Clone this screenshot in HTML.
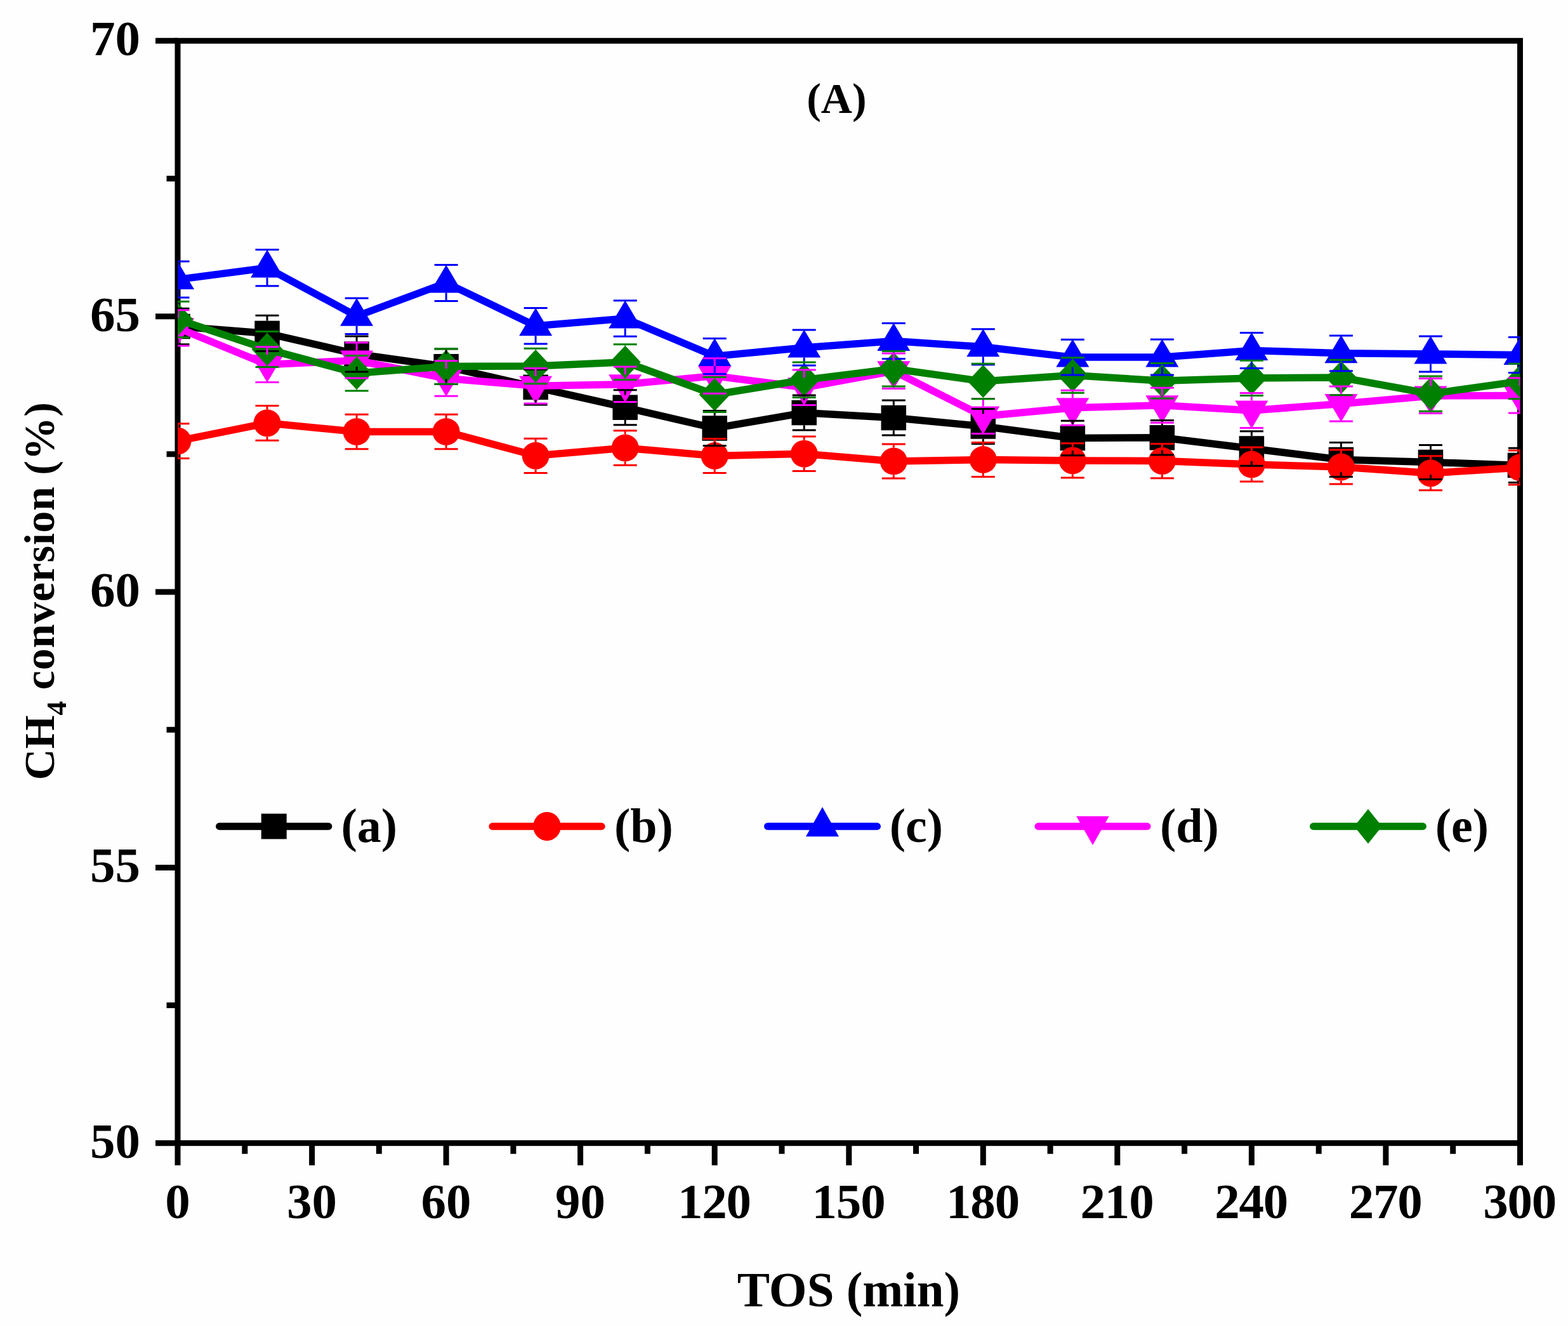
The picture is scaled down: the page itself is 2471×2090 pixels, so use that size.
<!DOCTYPE html>
<html><head><meta charset="utf-8"><title>CH4 conversion vs TOS</title>
<style>
html,body{margin:0;padding:0;background:#fefefe;}
svg{display:block;}
text{font-family:"Liberation Serif","Times New Roman",serif;font-weight:bold;fill:#000;}
</style></head><body>
<svg width="2471" height="2090" viewBox="0 0 2471 2090">
<rect width="2471" height="2090" fill="#fefefe"/>
<defs><clipPath id="pa"><rect x="280" y="0" width="2115.5" height="2090"/></clipPath></defs>

<rect x="280.0" y="64.3" width="2115.5" height="1737.4" fill="none" stroke="#000" stroke-width="9" stroke-linejoin="miter"/>
<line x1="245.0" y1="1801.7" x2="280.0" y2="1801.7" stroke="#000" stroke-width="9"/>
<line x1="262.5" y1="1584.5" x2="280.0" y2="1584.5" stroke="#000" stroke-width="9"/>
<line x1="245.0" y1="1367.4" x2="280.0" y2="1367.4" stroke="#000" stroke-width="9"/>
<line x1="262.5" y1="1150.2" x2="280.0" y2="1150.2" stroke="#000" stroke-width="9"/>
<line x1="245.0" y1="933.0" x2="280.0" y2="933.0" stroke="#000" stroke-width="9"/>
<line x1="262.5" y1="715.8" x2="280.0" y2="715.8" stroke="#000" stroke-width="9"/>
<line x1="245.0" y1="498.7" x2="280.0" y2="498.7" stroke="#000" stroke-width="9"/>
<line x1="262.5" y1="281.5" x2="280.0" y2="281.5" stroke="#000" stroke-width="9"/>
<line x1="245.0" y1="64.3" x2="280.0" y2="64.3" stroke="#000" stroke-width="9"/>
<line x1="280.0" y1="1801.7" x2="280.0" y2="1836.7" stroke="#000" stroke-width="9"/>
<line x1="385.8" y1="1801.7" x2="385.8" y2="1818.7" stroke="#000" stroke-width="9"/>
<line x1="491.6" y1="1801.7" x2="491.6" y2="1836.7" stroke="#000" stroke-width="9"/>
<line x1="597.3" y1="1801.7" x2="597.3" y2="1818.7" stroke="#000" stroke-width="9"/>
<line x1="703.1" y1="1801.7" x2="703.1" y2="1836.7" stroke="#000" stroke-width="9"/>
<line x1="808.9" y1="1801.7" x2="808.9" y2="1818.7" stroke="#000" stroke-width="9"/>
<line x1="914.6" y1="1801.7" x2="914.6" y2="1836.7" stroke="#000" stroke-width="9"/>
<line x1="1020.4" y1="1801.7" x2="1020.4" y2="1818.7" stroke="#000" stroke-width="9"/>
<line x1="1126.2" y1="1801.7" x2="1126.2" y2="1836.7" stroke="#000" stroke-width="9"/>
<line x1="1232.0" y1="1801.7" x2="1232.0" y2="1818.7" stroke="#000" stroke-width="9"/>
<line x1="1337.8" y1="1801.7" x2="1337.8" y2="1836.7" stroke="#000" stroke-width="9"/>
<line x1="1443.5" y1="1801.7" x2="1443.5" y2="1818.7" stroke="#000" stroke-width="9"/>
<line x1="1549.3" y1="1801.7" x2="1549.3" y2="1836.7" stroke="#000" stroke-width="9"/>
<line x1="1655.1" y1="1801.7" x2="1655.1" y2="1818.7" stroke="#000" stroke-width="9"/>
<line x1="1760.8" y1="1801.7" x2="1760.8" y2="1836.7" stroke="#000" stroke-width="9"/>
<line x1="1866.6" y1="1801.7" x2="1866.6" y2="1818.7" stroke="#000" stroke-width="9"/>
<line x1="1972.4" y1="1801.7" x2="1972.4" y2="1836.7" stroke="#000" stroke-width="9"/>
<line x1="2078.2" y1="1801.7" x2="2078.2" y2="1818.7" stroke="#000" stroke-width="9"/>
<line x1="2183.9" y1="1801.7" x2="2183.9" y2="1836.7" stroke="#000" stroke-width="9"/>
<line x1="2289.7" y1="1801.7" x2="2289.7" y2="1818.7" stroke="#000" stroke-width="9"/>
<line x1="2395.5" y1="1801.7" x2="2395.5" y2="1836.7" stroke="#000" stroke-width="9"/>
<text x="221" y="1824.7" font-size="79" text-anchor="end">50</text>
<text x="221" y="1390.4" font-size="79" text-anchor="end">55</text>
<text x="221" y="956.0" font-size="79" text-anchor="end">60</text>
<text x="221" y="521.7" font-size="79" text-anchor="end">65</text>
<text x="221" y="87.3" font-size="79" text-anchor="end">70</text>
<text x="280.0" y="1920" font-size="79" text-anchor="middle">0</text>
<text x="491.6" y="1920" font-size="79" text-anchor="middle">30</text>
<text x="703.1" y="1920" font-size="79" text-anchor="middle">60</text>
<text x="914.6" y="1920" font-size="79" text-anchor="middle">90</text>
<text x="1125.4" y="1920" font-size="79" text-anchor="middle" letter-spacing="-1.2">120</text>
<text x="1337.0" y="1920" font-size="79" text-anchor="middle" letter-spacing="-1.2">150</text>
<text x="1548.5" y="1920" font-size="79" text-anchor="middle" letter-spacing="-1.2">180</text>
<text x="1760.0" y="1920" font-size="79" text-anchor="middle" letter-spacing="-1.2">210</text>
<text x="1971.6" y="1920" font-size="79" text-anchor="middle" letter-spacing="-1.2">240</text>
<text x="2183.1" y="1920" font-size="79" text-anchor="middle" letter-spacing="-1.2">270</text>
<text x="2394.7" y="1920" font-size="79" text-anchor="middle" letter-spacing="-1.2">300</text>
<text transform="translate(1337.5,2059) scale(0.974,1)" font-size="79" text-anchor="middle">TOS (min)</text>
<text transform="translate(84.6,1229.4) rotate(-90)" x="0" y="0" font-size="68">CH<tspan font-size="45" dy="19">4</tspan><tspan dy="-19" letter-spacing="0.72"> conversion (%)</tspan></text>
<text x="1318.4" y="177.9" font-size="68" text-anchor="middle">(A)</text>
<g clip-path="url(#pa)">
<polyline points="280.0,514.5 421.0,525.4 562.1,558.0 703.1,577.7 844.1,610.3 985.2,642.2 1126.2,675.0 1267.2,650.5 1408.3,658.5 1549.3,672.0 1690.3,690.5 1831.4,689.8 1972.4,707.0 2113.4,724.5 2254.5,728.5 2395.5,733.4" fill="none" stroke="#000000" stroke-width="11.5" stroke-linejoin="miter"/>
<rect x="260.25" y="494.75" width="39.5" height="39.5" fill="#000000"/>
<rect x="401.28" y="505.65" width="39.5" height="39.5" fill="#000000"/>
<rect x="542.32" y="538.25" width="39.5" height="39.5" fill="#000000"/>
<rect x="683.35" y="557.95" width="39.5" height="39.5" fill="#000000"/>
<rect x="824.38" y="590.55" width="39.5" height="39.5" fill="#000000"/>
<rect x="965.42" y="622.45" width="39.5" height="39.5" fill="#000000"/>
<rect x="1106.45" y="655.25" width="39.5" height="39.5" fill="#000000"/>
<rect x="1247.48" y="630.75" width="39.5" height="39.5" fill="#000000"/>
<rect x="1388.52" y="638.75" width="39.5" height="39.5" fill="#000000"/>
<rect x="1529.55" y="652.25" width="39.5" height="39.5" fill="#000000"/>
<rect x="1670.58" y="670.75" width="39.5" height="39.5" fill="#000000"/>
<rect x="1811.62" y="670.05" width="39.5" height="39.5" fill="#000000"/>
<rect x="1952.65" y="687.25" width="39.5" height="39.5" fill="#000000"/>
<rect x="2093.68" y="704.75" width="39.5" height="39.5" fill="#000000"/>
<rect x="2234.72" y="708.75" width="39.5" height="39.5" fill="#000000"/>
<rect x="2375.75" y="713.65" width="39.5" height="39.5" fill="#000000"/>
<polyline points="280.0,695.1 421.0,666.8 562.1,680.5 703.1,680.5 844.1,718.3 985.2,706.0 1126.2,718.5 1267.2,715.2 1408.3,727.0 1549.3,724.5 1690.3,725.9 1831.4,726.6 1972.4,732.0 2113.4,736.1 2254.5,745.8 2395.5,737.0" fill="none" stroke="#ff0000" stroke-width="11.5" stroke-linejoin="miter"/>
<circle cx="280.00" cy="695.10" r="21.5" fill="#ff0000"/>
<circle cx="421.03" cy="666.80" r="21.5" fill="#ff0000"/>
<circle cx="562.07" cy="680.50" r="21.5" fill="#ff0000"/>
<circle cx="703.10" cy="680.50" r="21.5" fill="#ff0000"/>
<circle cx="844.13" cy="718.30" r="21.5" fill="#ff0000"/>
<circle cx="985.17" cy="706.00" r="21.5" fill="#ff0000"/>
<circle cx="1126.20" cy="718.50" r="21.5" fill="#ff0000"/>
<circle cx="1267.23" cy="715.20" r="21.5" fill="#ff0000"/>
<circle cx="1408.27" cy="727.00" r="21.5" fill="#ff0000"/>
<circle cx="1549.30" cy="724.50" r="21.5" fill="#ff0000"/>
<circle cx="1690.33" cy="725.90" r="21.5" fill="#ff0000"/>
<circle cx="1831.37" cy="726.60" r="21.5" fill="#ff0000"/>
<circle cx="1972.40" cy="732.00" r="21.5" fill="#ff0000"/>
<circle cx="2113.43" cy="736.10" r="21.5" fill="#ff0000"/>
<circle cx="2254.47" cy="745.80" r="21.5" fill="#ff0000"/>
<circle cx="2395.50" cy="737.00" r="21.5" fill="#ff0000"/>
<polyline points="280.0,440.6 421.0,422.1 562.1,498.3 703.1,445.9 844.1,513.7 985.2,502.0 1126.2,561.5 1267.2,548.0 1408.3,537.5 1549.3,546.8 1690.3,563.1 1831.4,563.0 1972.4,552.4 2113.4,556.8 2254.5,558.0 2395.5,559.5" fill="none" stroke="#0000ff" stroke-width="11.5" stroke-linejoin="miter"/>
<polygon points="280.00,412.10 254.00,456.10 306.00,456.10" fill="#0000ff"/>
<polygon points="421.03,393.60 395.03,437.60 447.03,437.60" fill="#0000ff"/>
<polygon points="562.07,469.80 536.07,513.80 588.07,513.80" fill="#0000ff"/>
<polygon points="703.10,417.40 677.10,461.40 729.10,461.40" fill="#0000ff"/>
<polygon points="844.13,485.20 818.13,529.20 870.13,529.20" fill="#0000ff"/>
<polygon points="985.17,473.50 959.17,517.50 1011.17,517.50" fill="#0000ff"/>
<polygon points="1126.20,533.00 1100.20,577.00 1152.20,577.00" fill="#0000ff"/>
<polygon points="1267.23,519.50 1241.23,563.50 1293.23,563.50" fill="#0000ff"/>
<polygon points="1408.27,509.00 1382.27,553.00 1434.27,553.00" fill="#0000ff"/>
<polygon points="1549.30,518.30 1523.30,562.30 1575.30,562.30" fill="#0000ff"/>
<polygon points="1690.33,534.60 1664.33,578.60 1716.33,578.60" fill="#0000ff"/>
<polygon points="1831.37,534.50 1805.37,578.50 1857.37,578.50" fill="#0000ff"/>
<polygon points="1972.40,523.90 1946.40,567.90 1998.40,567.90" fill="#0000ff"/>
<polygon points="2113.43,528.30 2087.43,572.30 2139.43,572.30" fill="#0000ff"/>
<polygon points="2254.47,529.50 2228.47,573.50 2280.47,573.50" fill="#0000ff"/>
<polygon points="2395.50,531.00 2369.50,575.00 2421.50,575.00" fill="#0000ff"/>
<polyline points="280.0,516.8 421.0,574.6 562.1,568.0 703.1,596.5 844.1,608.2 985.2,605.7 1126.2,592.5 1267.2,610.8 1408.3,584.8 1549.3,656.0 1690.3,642.7 1831.4,638.7 1972.4,647.0 2113.4,636.4 2254.5,624.0 2395.5,623.4" fill="none" stroke="#ff00ff" stroke-width="11.5" stroke-linejoin="miter"/>
<polygon points="280.00,545.30 254.00,501.30 306.00,501.30" fill="#ff00ff"/>
<polygon points="421.03,603.10 395.03,559.10 447.03,559.10" fill="#ff00ff"/>
<polygon points="562.07,596.50 536.07,552.50 588.07,552.50" fill="#ff00ff"/>
<polygon points="703.10,625.00 677.10,581.00 729.10,581.00" fill="#ff00ff"/>
<polygon points="844.13,636.70 818.13,592.70 870.13,592.70" fill="#ff00ff"/>
<polygon points="985.17,634.20 959.17,590.20 1011.17,590.20" fill="#ff00ff"/>
<polygon points="1126.20,621.00 1100.20,577.00 1152.20,577.00" fill="#ff00ff"/>
<polygon points="1267.23,639.30 1241.23,595.30 1293.23,595.30" fill="#ff00ff"/>
<polygon points="1408.27,613.30 1382.27,569.30 1434.27,569.30" fill="#ff00ff"/>
<polygon points="1549.30,684.50 1523.30,640.50 1575.30,640.50" fill="#ff00ff"/>
<polygon points="1690.33,671.20 1664.33,627.20 1716.33,627.20" fill="#ff00ff"/>
<polygon points="1831.37,667.20 1805.37,623.20 1857.37,623.20" fill="#ff00ff"/>
<polygon points="1972.40,675.50 1946.40,631.50 1998.40,631.50" fill="#ff00ff"/>
<polygon points="2113.43,664.90 2087.43,620.90 2139.43,620.90" fill="#ff00ff"/>
<polygon points="2254.47,652.50 2228.47,608.50 2280.47,608.50" fill="#ff00ff"/>
<polygon points="2395.50,651.90 2369.50,607.90 2421.50,607.90" fill="#ff00ff"/>
<polyline points="280.0,503.5 421.0,550.4 562.1,588.2 703.1,577.5 844.1,577.0 985.2,570.7 1126.2,622.0 1267.2,598.8 1408.3,581.3 1549.3,601.0 1690.3,591.5 1831.4,600.3 1972.4,595.9 2113.4,595.0 2254.5,620.6 2395.5,601.0" fill="none" stroke="#008000" stroke-width="11.5" stroke-linejoin="miter"/>
<polygon points="280.00,477.50 304.50,503.50 280.00,529.50 255.50,503.50" fill="#008000"/>
<polygon points="421.03,524.40 445.53,550.40 421.03,576.40 396.53,550.40" fill="#008000"/>
<polygon points="562.07,562.20 586.57,588.20 562.07,614.20 537.57,588.20" fill="#008000"/>
<polygon points="703.10,551.50 727.60,577.50 703.10,603.50 678.60,577.50" fill="#008000"/>
<polygon points="844.13,551.00 868.63,577.00 844.13,603.00 819.63,577.00" fill="#008000"/>
<polygon points="985.17,544.70 1009.67,570.70 985.17,596.70 960.67,570.70" fill="#008000"/>
<polygon points="1126.20,596.00 1150.70,622.00 1126.20,648.00 1101.70,622.00" fill="#008000"/>
<polygon points="1267.23,572.80 1291.73,598.80 1267.23,624.80 1242.73,598.80" fill="#008000"/>
<polygon points="1408.27,555.30 1432.77,581.30 1408.27,607.30 1383.77,581.30" fill="#008000"/>
<polygon points="1549.30,575.00 1573.80,601.00 1549.30,627.00 1524.80,601.00" fill="#008000"/>
<polygon points="1690.33,565.50 1714.83,591.50 1690.33,617.50 1665.83,591.50" fill="#008000"/>
<polygon points="1831.37,574.30 1855.87,600.30 1831.37,626.30 1806.87,600.30" fill="#008000"/>
<polygon points="1972.40,569.90 1996.90,595.90 1972.40,621.90 1947.90,595.90" fill="#008000"/>
<polygon points="2113.43,569.00 2137.93,595.00 2113.43,621.00 2088.93,595.00" fill="#008000"/>
<polygon points="2254.47,594.60 2278.97,620.60 2254.47,646.60 2229.97,620.60" fill="#008000"/>
<polygon points="2395.50,575.00 2420.00,601.00 2395.50,627.00 2371.00,601.00" fill="#008000"/>
<line x1="280.0" y1="486.3" x2="280.0" y2="494.8" stroke="#000000" stroke-width="3"/><line x1="280.0" y1="534.2" x2="280.0" y2="542.7" stroke="#000000" stroke-width="3"/><line x1="261.5" y1="486.3" x2="298.5" y2="486.3" stroke="#000000" stroke-width="3"/><line x1="261.5" y1="542.7" x2="298.5" y2="542.7" stroke="#000000" stroke-width="3"/>
<line x1="421.0" y1="497.3" x2="421.0" y2="505.6" stroke="#000000" stroke-width="3"/><line x1="421.0" y1="545.1" x2="421.0" y2="553.5" stroke="#000000" stroke-width="3"/><line x1="402.5" y1="497.3" x2="439.5" y2="497.3" stroke="#000000" stroke-width="3"/><line x1="402.5" y1="553.5" x2="439.5" y2="553.5" stroke="#000000" stroke-width="3"/>
<line x1="562.1" y1="530.1" x2="562.1" y2="538.2" stroke="#000000" stroke-width="3"/><line x1="562.1" y1="577.8" x2="562.1" y2="585.9" stroke="#000000" stroke-width="3"/><line x1="543.6" y1="530.1" x2="580.6" y2="530.1" stroke="#000000" stroke-width="3"/><line x1="543.6" y1="585.9" x2="580.6" y2="585.9" stroke="#000000" stroke-width="3"/>
<line x1="703.1" y1="549.9" x2="703.1" y2="558.0" stroke="#000000" stroke-width="3"/><line x1="703.1" y1="597.5" x2="703.1" y2="605.5" stroke="#000000" stroke-width="3"/><line x1="684.6" y1="549.9" x2="721.6" y2="549.9" stroke="#000000" stroke-width="3"/><line x1="684.6" y1="605.5" x2="721.6" y2="605.5" stroke="#000000" stroke-width="3"/>
<line x1="844.1" y1="582.6" x2="844.1" y2="590.5" stroke="#000000" stroke-width="3"/><line x1="844.1" y1="630.0" x2="844.1" y2="638.0" stroke="#000000" stroke-width="3"/><line x1="825.6" y1="582.6" x2="862.6" y2="582.6" stroke="#000000" stroke-width="3"/><line x1="825.6" y1="638.0" x2="862.6" y2="638.0" stroke="#000000" stroke-width="3"/>
<line x1="985.2" y1="614.7" x2="985.2" y2="622.5" stroke="#000000" stroke-width="3"/><line x1="985.2" y1="662.0" x2="985.2" y2="669.7" stroke="#000000" stroke-width="3"/><line x1="966.7" y1="614.7" x2="1003.7" y2="614.7" stroke="#000000" stroke-width="3"/><line x1="966.7" y1="669.7" x2="1003.7" y2="669.7" stroke="#000000" stroke-width="3"/>
<line x1="1126.2" y1="647.6" x2="1126.2" y2="655.2" stroke="#000000" stroke-width="3"/><line x1="1126.2" y1="694.8" x2="1126.2" y2="702.4" stroke="#000000" stroke-width="3"/><line x1="1107.7" y1="647.6" x2="1144.7" y2="647.6" stroke="#000000" stroke-width="3"/><line x1="1107.7" y1="702.4" x2="1144.7" y2="702.4" stroke="#000000" stroke-width="3"/>
<line x1="1267.2" y1="623.0" x2="1267.2" y2="630.8" stroke="#000000" stroke-width="3"/><line x1="1267.2" y1="670.2" x2="1267.2" y2="678.0" stroke="#000000" stroke-width="3"/><line x1="1248.7" y1="623.0" x2="1285.7" y2="623.0" stroke="#000000" stroke-width="3"/><line x1="1248.7" y1="678.0" x2="1285.7" y2="678.0" stroke="#000000" stroke-width="3"/>
<line x1="1408.3" y1="631.1" x2="1408.3" y2="638.8" stroke="#000000" stroke-width="3"/><line x1="1408.3" y1="678.2" x2="1408.3" y2="685.9" stroke="#000000" stroke-width="3"/><line x1="1389.8" y1="631.1" x2="1426.8" y2="631.1" stroke="#000000" stroke-width="3"/><line x1="1389.8" y1="685.9" x2="1426.8" y2="685.9" stroke="#000000" stroke-width="3"/>
<line x1="1549.3" y1="644.6" x2="1549.3" y2="652.2" stroke="#000000" stroke-width="3"/><line x1="1549.3" y1="691.8" x2="1549.3" y2="699.4" stroke="#000000" stroke-width="3"/><line x1="1530.8" y1="644.6" x2="1567.8" y2="644.6" stroke="#000000" stroke-width="3"/><line x1="1530.8" y1="699.4" x2="1567.8" y2="699.4" stroke="#000000" stroke-width="3"/>
<line x1="1690.3" y1="663.2" x2="1690.3" y2="670.8" stroke="#000000" stroke-width="3"/><line x1="1690.3" y1="710.2" x2="1690.3" y2="717.8" stroke="#000000" stroke-width="3"/><line x1="1671.8" y1="663.2" x2="1708.8" y2="663.2" stroke="#000000" stroke-width="3"/><line x1="1671.8" y1="717.8" x2="1708.8" y2="717.8" stroke="#000000" stroke-width="3"/>
<line x1="1831.4" y1="662.5" x2="1831.4" y2="670.0" stroke="#000000" stroke-width="3"/><line x1="1831.4" y1="709.5" x2="1831.4" y2="717.1" stroke="#000000" stroke-width="3"/><line x1="1812.9" y1="662.5" x2="1849.9" y2="662.5" stroke="#000000" stroke-width="3"/><line x1="1812.9" y1="717.1" x2="1849.9" y2="717.1" stroke="#000000" stroke-width="3"/>
<line x1="1972.4" y1="679.8" x2="1972.4" y2="687.2" stroke="#000000" stroke-width="3"/><line x1="1972.4" y1="726.8" x2="1972.4" y2="734.2" stroke="#000000" stroke-width="3"/><line x1="1953.9" y1="679.8" x2="1990.9" y2="679.8" stroke="#000000" stroke-width="3"/><line x1="1953.9" y1="734.2" x2="1990.9" y2="734.2" stroke="#000000" stroke-width="3"/>
<line x1="2113.4" y1="697.4" x2="2113.4" y2="704.8" stroke="#000000" stroke-width="3"/><line x1="2113.4" y1="744.2" x2="2113.4" y2="751.6" stroke="#000000" stroke-width="3"/><line x1="2094.9" y1="697.4" x2="2131.9" y2="697.4" stroke="#000000" stroke-width="3"/><line x1="2094.9" y1="751.6" x2="2131.9" y2="751.6" stroke="#000000" stroke-width="3"/>
<line x1="2254.5" y1="701.4" x2="2254.5" y2="708.8" stroke="#000000" stroke-width="3"/><line x1="2254.5" y1="748.2" x2="2254.5" y2="755.6" stroke="#000000" stroke-width="3"/><line x1="2236.0" y1="701.4" x2="2273.0" y2="701.4" stroke="#000000" stroke-width="3"/><line x1="2236.0" y1="755.6" x2="2273.0" y2="755.6" stroke="#000000" stroke-width="3"/>
<line x1="2395.5" y1="706.3" x2="2395.5" y2="713.6" stroke="#000000" stroke-width="3"/><line x1="2395.5" y1="753.1" x2="2395.5" y2="760.5" stroke="#000000" stroke-width="3"/><line x1="2377.0" y1="706.3" x2="2414.0" y2="706.3" stroke="#000000" stroke-width="3"/><line x1="2377.0" y1="760.5" x2="2414.0" y2="760.5" stroke="#000000" stroke-width="3"/>
<line x1="280.0" y1="667.8" x2="280.0" y2="673.6" stroke="#ff0000" stroke-width="3"/><line x1="280.0" y1="716.6" x2="280.0" y2="722.4" stroke="#ff0000" stroke-width="3"/><line x1="261.5" y1="667.8" x2="298.5" y2="667.8" stroke="#ff0000" stroke-width="3"/><line x1="261.5" y1="722.4" x2="298.5" y2="722.4" stroke="#ff0000" stroke-width="3"/>
<line x1="421.0" y1="639.4" x2="421.0" y2="645.3" stroke="#ff0000" stroke-width="3"/><line x1="421.0" y1="688.3" x2="421.0" y2="694.2" stroke="#ff0000" stroke-width="3"/><line x1="402.5" y1="639.4" x2="439.5" y2="639.4" stroke="#ff0000" stroke-width="3"/><line x1="402.5" y1="694.2" x2="439.5" y2="694.2" stroke="#ff0000" stroke-width="3"/>
<line x1="562.1" y1="653.2" x2="562.1" y2="659.0" stroke="#ff0000" stroke-width="3"/><line x1="562.1" y1="702.0" x2="562.1" y2="707.8" stroke="#ff0000" stroke-width="3"/><line x1="543.6" y1="653.2" x2="580.6" y2="653.2" stroke="#ff0000" stroke-width="3"/><line x1="543.6" y1="707.8" x2="580.6" y2="707.8" stroke="#ff0000" stroke-width="3"/>
<line x1="703.1" y1="653.2" x2="703.1" y2="659.0" stroke="#ff0000" stroke-width="3"/><line x1="703.1" y1="702.0" x2="703.1" y2="707.8" stroke="#ff0000" stroke-width="3"/><line x1="684.6" y1="653.2" x2="721.6" y2="653.2" stroke="#ff0000" stroke-width="3"/><line x1="684.6" y1="707.8" x2="721.6" y2="707.8" stroke="#ff0000" stroke-width="3"/>
<line x1="844.1" y1="691.2" x2="844.1" y2="696.8" stroke="#ff0000" stroke-width="3"/><line x1="844.1" y1="739.8" x2="844.1" y2="745.4" stroke="#ff0000" stroke-width="3"/><line x1="825.6" y1="691.2" x2="862.6" y2="691.2" stroke="#ff0000" stroke-width="3"/><line x1="825.6" y1="745.4" x2="862.6" y2="745.4" stroke="#ff0000" stroke-width="3"/>
<line x1="985.2" y1="678.8" x2="985.2" y2="684.5" stroke="#ff0000" stroke-width="3"/><line x1="985.2" y1="727.5" x2="985.2" y2="733.2" stroke="#ff0000" stroke-width="3"/><line x1="966.7" y1="678.8" x2="1003.7" y2="678.8" stroke="#ff0000" stroke-width="3"/><line x1="966.7" y1="733.2" x2="1003.7" y2="733.2" stroke="#ff0000" stroke-width="3"/>
<line x1="1126.2" y1="691.4" x2="1126.2" y2="697.0" stroke="#ff0000" stroke-width="3"/><line x1="1126.2" y1="740.0" x2="1126.2" y2="745.6" stroke="#ff0000" stroke-width="3"/><line x1="1107.7" y1="691.4" x2="1144.7" y2="691.4" stroke="#ff0000" stroke-width="3"/><line x1="1107.7" y1="745.6" x2="1144.7" y2="745.6" stroke="#ff0000" stroke-width="3"/>
<line x1="1267.2" y1="688.1" x2="1267.2" y2="693.7" stroke="#ff0000" stroke-width="3"/><line x1="1267.2" y1="736.7" x2="1267.2" y2="742.4" stroke="#ff0000" stroke-width="3"/><line x1="1248.7" y1="688.1" x2="1285.7" y2="688.1" stroke="#ff0000" stroke-width="3"/><line x1="1248.7" y1="742.4" x2="1285.7" y2="742.4" stroke="#ff0000" stroke-width="3"/>
<line x1="1408.3" y1="699.9" x2="1408.3" y2="705.5" stroke="#ff0000" stroke-width="3"/><line x1="1408.3" y1="748.5" x2="1408.3" y2="754.1" stroke="#ff0000" stroke-width="3"/><line x1="1389.8" y1="699.9" x2="1426.8" y2="699.9" stroke="#ff0000" stroke-width="3"/><line x1="1389.8" y1="754.1" x2="1426.8" y2="754.1" stroke="#ff0000" stroke-width="3"/>
<line x1="1549.3" y1="697.4" x2="1549.3" y2="703.0" stroke="#ff0000" stroke-width="3"/><line x1="1549.3" y1="746.0" x2="1549.3" y2="751.6" stroke="#ff0000" stroke-width="3"/><line x1="1530.8" y1="697.4" x2="1567.8" y2="697.4" stroke="#ff0000" stroke-width="3"/><line x1="1530.8" y1="751.6" x2="1567.8" y2="751.6" stroke="#ff0000" stroke-width="3"/>
<line x1="1690.3" y1="698.8" x2="1690.3" y2="704.4" stroke="#ff0000" stroke-width="3"/><line x1="1690.3" y1="747.4" x2="1690.3" y2="753.0" stroke="#ff0000" stroke-width="3"/><line x1="1671.8" y1="698.8" x2="1708.8" y2="698.8" stroke="#ff0000" stroke-width="3"/><line x1="1671.8" y1="753.0" x2="1708.8" y2="753.0" stroke="#ff0000" stroke-width="3"/>
<line x1="1831.4" y1="699.5" x2="1831.4" y2="705.1" stroke="#ff0000" stroke-width="3"/><line x1="1831.4" y1="748.1" x2="1831.4" y2="753.7" stroke="#ff0000" stroke-width="3"/><line x1="1812.9" y1="699.5" x2="1849.9" y2="699.5" stroke="#ff0000" stroke-width="3"/><line x1="1812.9" y1="753.7" x2="1849.9" y2="753.7" stroke="#ff0000" stroke-width="3"/>
<line x1="1972.4" y1="704.9" x2="1972.4" y2="710.5" stroke="#ff0000" stroke-width="3"/><line x1="1972.4" y1="753.5" x2="1972.4" y2="759.1" stroke="#ff0000" stroke-width="3"/><line x1="1953.9" y1="704.9" x2="1990.9" y2="704.9" stroke="#ff0000" stroke-width="3"/><line x1="1953.9" y1="759.1" x2="1990.9" y2="759.1" stroke="#ff0000" stroke-width="3"/>
<line x1="2113.4" y1="709.1" x2="2113.4" y2="714.6" stroke="#ff0000" stroke-width="3"/><line x1="2113.4" y1="757.6" x2="2113.4" y2="763.1" stroke="#ff0000" stroke-width="3"/><line x1="2094.9" y1="709.1" x2="2131.9" y2="709.1" stroke="#ff0000" stroke-width="3"/><line x1="2094.9" y1="763.1" x2="2131.9" y2="763.1" stroke="#ff0000" stroke-width="3"/>
<line x1="2254.5" y1="718.8" x2="2254.5" y2="724.3" stroke="#ff0000" stroke-width="3"/><line x1="2254.5" y1="767.3" x2="2254.5" y2="772.8" stroke="#ff0000" stroke-width="3"/><line x1="2236.0" y1="718.8" x2="2273.0" y2="718.8" stroke="#ff0000" stroke-width="3"/><line x1="2236.0" y1="772.8" x2="2273.0" y2="772.8" stroke="#ff0000" stroke-width="3"/>
<line x1="2395.5" y1="710.0" x2="2395.5" y2="715.5" stroke="#ff0000" stroke-width="3"/><line x1="2395.5" y1="758.5" x2="2395.5" y2="764.0" stroke="#ff0000" stroke-width="3"/><line x1="2377.0" y1="710.0" x2="2414.0" y2="710.0" stroke="#ff0000" stroke-width="3"/><line x1="2377.0" y1="764.0" x2="2414.0" y2="764.0" stroke="#ff0000" stroke-width="3"/>
<line x1="280.0" y1="412.1" x2="280.0" y2="412.1" stroke="#0000ff" stroke-width="3"/><line x1="280.0" y1="456.1" x2="280.0" y2="469.1" stroke="#0000ff" stroke-width="3"/><line x1="261.5" y1="412.1" x2="298.5" y2="412.1" stroke="#0000ff" stroke-width="3"/><line x1="261.5" y1="469.1" x2="298.5" y2="469.1" stroke="#0000ff" stroke-width="3"/>
<line x1="421.0" y1="393.5" x2="421.0" y2="393.6" stroke="#0000ff" stroke-width="3"/><line x1="421.0" y1="437.6" x2="421.0" y2="450.7" stroke="#0000ff" stroke-width="3"/><line x1="402.5" y1="393.5" x2="439.5" y2="393.5" stroke="#0000ff" stroke-width="3"/><line x1="402.5" y1="450.7" x2="439.5" y2="450.7" stroke="#0000ff" stroke-width="3"/>
<line x1="562.1" y1="513.8" x2="562.1" y2="526.5" stroke="#0000ff" stroke-width="3"/><line x1="543.6" y1="470.1" x2="580.6" y2="470.1" stroke="#0000ff" stroke-width="3"/><line x1="543.6" y1="526.5" x2="580.6" y2="526.5" stroke="#0000ff" stroke-width="3"/>
<line x1="703.1" y1="461.4" x2="703.1" y2="474.4" stroke="#0000ff" stroke-width="3"/><line x1="684.6" y1="417.4" x2="721.6" y2="417.4" stroke="#0000ff" stroke-width="3"/><line x1="684.6" y1="474.4" x2="721.6" y2="474.4" stroke="#0000ff" stroke-width="3"/>
<line x1="844.1" y1="529.2" x2="844.1" y2="541.9" stroke="#0000ff" stroke-width="3"/><line x1="825.6" y1="485.5" x2="862.6" y2="485.5" stroke="#0000ff" stroke-width="3"/><line x1="825.6" y1="541.9" x2="862.6" y2="541.9" stroke="#0000ff" stroke-width="3"/>
<line x1="985.2" y1="517.5" x2="985.2" y2="530.2" stroke="#0000ff" stroke-width="3"/><line x1="966.7" y1="473.8" x2="1003.7" y2="473.8" stroke="#0000ff" stroke-width="3"/><line x1="966.7" y1="530.2" x2="1003.7" y2="530.2" stroke="#0000ff" stroke-width="3"/>
<line x1="1126.2" y1="577.0" x2="1126.2" y2="589.4" stroke="#0000ff" stroke-width="3"/><line x1="1107.7" y1="533.6" x2="1144.7" y2="533.6" stroke="#0000ff" stroke-width="3"/><line x1="1107.7" y1="589.4" x2="1144.7" y2="589.4" stroke="#0000ff" stroke-width="3"/>
<line x1="1267.2" y1="563.5" x2="1267.2" y2="576.0" stroke="#0000ff" stroke-width="3"/><line x1="1248.7" y1="520.0" x2="1285.7" y2="520.0" stroke="#0000ff" stroke-width="3"/><line x1="1248.7" y1="576.0" x2="1285.7" y2="576.0" stroke="#0000ff" stroke-width="3"/>
<line x1="1408.3" y1="553.0" x2="1408.3" y2="565.5" stroke="#0000ff" stroke-width="3"/><line x1="1389.8" y1="509.5" x2="1426.8" y2="509.5" stroke="#0000ff" stroke-width="3"/><line x1="1389.8" y1="565.5" x2="1426.8" y2="565.5" stroke="#0000ff" stroke-width="3"/>
<line x1="1549.3" y1="562.3" x2="1549.3" y2="574.8" stroke="#0000ff" stroke-width="3"/><line x1="1530.8" y1="518.8" x2="1567.8" y2="518.8" stroke="#0000ff" stroke-width="3"/><line x1="1530.8" y1="574.8" x2="1567.8" y2="574.8" stroke="#0000ff" stroke-width="3"/>
<line x1="1690.3" y1="578.6" x2="1690.3" y2="591.0" stroke="#0000ff" stroke-width="3"/><line x1="1671.8" y1="535.2" x2="1708.8" y2="535.2" stroke="#0000ff" stroke-width="3"/><line x1="1671.8" y1="591.0" x2="1708.8" y2="591.0" stroke="#0000ff" stroke-width="3"/>
<line x1="1831.4" y1="578.5" x2="1831.4" y2="590.9" stroke="#0000ff" stroke-width="3"/><line x1="1812.9" y1="535.1" x2="1849.9" y2="535.1" stroke="#0000ff" stroke-width="3"/><line x1="1812.9" y1="590.9" x2="1849.9" y2="590.9" stroke="#0000ff" stroke-width="3"/>
<line x1="1972.4" y1="567.9" x2="1972.4" y2="580.4" stroke="#0000ff" stroke-width="3"/><line x1="1953.9" y1="524.4" x2="1990.9" y2="524.4" stroke="#0000ff" stroke-width="3"/><line x1="1953.9" y1="580.4" x2="1990.9" y2="580.4" stroke="#0000ff" stroke-width="3"/>
<line x1="2113.4" y1="572.3" x2="2113.4" y2="584.7" stroke="#0000ff" stroke-width="3"/><line x1="2094.9" y1="528.9" x2="2131.9" y2="528.9" stroke="#0000ff" stroke-width="3"/><line x1="2094.9" y1="584.7" x2="2131.9" y2="584.7" stroke="#0000ff" stroke-width="3"/>
<line x1="2254.5" y1="573.5" x2="2254.5" y2="585.9" stroke="#0000ff" stroke-width="3"/><line x1="2236.0" y1="530.1" x2="2273.0" y2="530.1" stroke="#0000ff" stroke-width="3"/><line x1="2236.0" y1="585.9" x2="2273.0" y2="585.9" stroke="#0000ff" stroke-width="3"/>
<line x1="2395.5" y1="575.0" x2="2395.5" y2="587.4" stroke="#0000ff" stroke-width="3"/><line x1="2377.0" y1="531.6" x2="2414.0" y2="531.6" stroke="#0000ff" stroke-width="3"/><line x1="2377.0" y1="587.4" x2="2414.0" y2="587.4" stroke="#0000ff" stroke-width="3"/>
<line x1="280.0" y1="488.7" x2="280.0" y2="501.3" stroke="#ff00ff" stroke-width="3"/><line x1="261.5" y1="488.7" x2="298.5" y2="488.7" stroke="#ff00ff" stroke-width="3"/><line x1="261.5" y1="544.9" x2="298.5" y2="544.9" stroke="#ff00ff" stroke-width="3"/>
<line x1="421.0" y1="546.7" x2="421.0" y2="559.1" stroke="#ff00ff" stroke-width="3"/><line x1="402.5" y1="546.7" x2="439.5" y2="546.7" stroke="#ff00ff" stroke-width="3"/><line x1="402.5" y1="602.5" x2="439.5" y2="602.5" stroke="#ff00ff" stroke-width="3"/>
<line x1="562.1" y1="540.1" x2="562.1" y2="552.5" stroke="#ff00ff" stroke-width="3"/><line x1="543.6" y1="540.1" x2="580.6" y2="540.1" stroke="#ff00ff" stroke-width="3"/><line x1="543.6" y1="595.9" x2="580.6" y2="595.9" stroke="#ff00ff" stroke-width="3"/>
<line x1="703.1" y1="568.8" x2="703.1" y2="581.0" stroke="#ff00ff" stroke-width="3"/><line x1="684.6" y1="568.8" x2="721.6" y2="568.8" stroke="#ff00ff" stroke-width="3"/><line x1="684.6" y1="624.2" x2="721.6" y2="624.2" stroke="#ff00ff" stroke-width="3"/>
<line x1="844.1" y1="580.5" x2="844.1" y2="592.7" stroke="#ff00ff" stroke-width="3"/><line x1="825.6" y1="580.5" x2="862.6" y2="580.5" stroke="#ff00ff" stroke-width="3"/><line x1="825.6" y1="635.9" x2="862.6" y2="635.9" stroke="#ff00ff" stroke-width="3"/>
<line x1="985.2" y1="578.0" x2="985.2" y2="590.2" stroke="#ff00ff" stroke-width="3"/><line x1="966.7" y1="578.0" x2="1003.7" y2="578.0" stroke="#ff00ff" stroke-width="3"/><line x1="966.7" y1="633.4" x2="1003.7" y2="633.4" stroke="#ff00ff" stroke-width="3"/>
<line x1="1126.2" y1="564.7" x2="1126.2" y2="577.0" stroke="#ff00ff" stroke-width="3"/><line x1="1107.7" y1="564.7" x2="1144.7" y2="564.7" stroke="#ff00ff" stroke-width="3"/><line x1="1107.7" y1="620.3" x2="1144.7" y2="620.3" stroke="#ff00ff" stroke-width="3"/>
<line x1="1267.2" y1="583.1" x2="1267.2" y2="595.3" stroke="#ff00ff" stroke-width="3"/><line x1="1248.7" y1="583.1" x2="1285.7" y2="583.1" stroke="#ff00ff" stroke-width="3"/><line x1="1248.7" y1="638.5" x2="1285.7" y2="638.5" stroke="#ff00ff" stroke-width="3"/>
<line x1="1408.3" y1="557.0" x2="1408.3" y2="569.3" stroke="#ff00ff" stroke-width="3"/><line x1="1389.8" y1="557.0" x2="1426.8" y2="557.0" stroke="#ff00ff" stroke-width="3"/><line x1="1389.8" y1="612.6" x2="1426.8" y2="612.6" stroke="#ff00ff" stroke-width="3"/>
<line x1="1549.3" y1="628.6" x2="1549.3" y2="640.5" stroke="#ff00ff" stroke-width="3"/><line x1="1530.8" y1="628.6" x2="1567.8" y2="628.6" stroke="#ff00ff" stroke-width="3"/><line x1="1530.8" y1="683.4" x2="1567.8" y2="683.4" stroke="#ff00ff" stroke-width="3"/>
<line x1="1690.3" y1="615.2" x2="1690.3" y2="627.2" stroke="#ff00ff" stroke-width="3"/><line x1="1671.8" y1="615.2" x2="1708.8" y2="615.2" stroke="#ff00ff" stroke-width="3"/><line x1="1671.8" y1="670.2" x2="1708.8" y2="670.2" stroke="#ff00ff" stroke-width="3"/>
<line x1="1831.4" y1="611.2" x2="1831.4" y2="623.2" stroke="#ff00ff" stroke-width="3"/><line x1="1812.9" y1="611.2" x2="1849.9" y2="611.2" stroke="#ff00ff" stroke-width="3"/><line x1="1812.9" y1="666.2" x2="1849.9" y2="666.2" stroke="#ff00ff" stroke-width="3"/>
<line x1="1972.4" y1="619.5" x2="1972.4" y2="631.5" stroke="#ff00ff" stroke-width="3"/><line x1="1953.9" y1="619.5" x2="1990.9" y2="619.5" stroke="#ff00ff" stroke-width="3"/><line x1="1953.9" y1="674.5" x2="1990.9" y2="674.5" stroke="#ff00ff" stroke-width="3"/>
<line x1="2113.4" y1="608.9" x2="2113.4" y2="620.9" stroke="#ff00ff" stroke-width="3"/><line x1="2094.9" y1="608.9" x2="2131.9" y2="608.9" stroke="#ff00ff" stroke-width="3"/><line x1="2094.9" y1="663.9" x2="2131.9" y2="663.9" stroke="#ff00ff" stroke-width="3"/>
<line x1="2254.5" y1="596.4" x2="2254.5" y2="608.5" stroke="#ff00ff" stroke-width="3"/><line x1="2236.0" y1="596.4" x2="2273.0" y2="596.4" stroke="#ff00ff" stroke-width="3"/><line x1="2236.0" y1="651.6" x2="2273.0" y2="651.6" stroke="#ff00ff" stroke-width="3"/>
<line x1="2395.5" y1="595.8" x2="2395.5" y2="607.9" stroke="#ff00ff" stroke-width="3"/><line x1="2377.0" y1="595.8" x2="2414.0" y2="595.8" stroke="#ff00ff" stroke-width="3"/><line x1="2377.0" y1="651.0" x2="2414.0" y2="651.0" stroke="#ff00ff" stroke-width="3"/>
<line x1="280.0" y1="475.3" x2="280.0" y2="477.5" stroke="#008000" stroke-width="3"/><line x1="280.0" y1="529.5" x2="280.0" y2="531.7" stroke="#008000" stroke-width="3"/><line x1="261.5" y1="475.3" x2="298.5" y2="475.3" stroke="#008000" stroke-width="3"/><line x1="261.5" y1="531.7" x2="298.5" y2="531.7" stroke="#008000" stroke-width="3"/>
<line x1="421.0" y1="522.4" x2="421.0" y2="524.4" stroke="#008000" stroke-width="3"/><line x1="421.0" y1="576.4" x2="421.0" y2="578.4" stroke="#008000" stroke-width="3"/><line x1="402.5" y1="522.4" x2="439.5" y2="522.4" stroke="#008000" stroke-width="3"/><line x1="402.5" y1="578.4" x2="439.5" y2="578.4" stroke="#008000" stroke-width="3"/>
<line x1="562.1" y1="560.4" x2="562.1" y2="562.2" stroke="#008000" stroke-width="3"/><line x1="562.1" y1="614.2" x2="562.1" y2="616.0" stroke="#008000" stroke-width="3"/><line x1="543.6" y1="560.4" x2="580.6" y2="560.4" stroke="#008000" stroke-width="3"/><line x1="543.6" y1="616.0" x2="580.6" y2="616.0" stroke="#008000" stroke-width="3"/>
<line x1="703.1" y1="549.7" x2="703.1" y2="551.5" stroke="#008000" stroke-width="3"/><line x1="703.1" y1="603.5" x2="703.1" y2="605.3" stroke="#008000" stroke-width="3"/><line x1="684.6" y1="549.7" x2="721.6" y2="549.7" stroke="#008000" stroke-width="3"/><line x1="684.6" y1="605.3" x2="721.6" y2="605.3" stroke="#008000" stroke-width="3"/>
<line x1="844.1" y1="549.2" x2="844.1" y2="551.0" stroke="#008000" stroke-width="3"/><line x1="844.1" y1="603.0" x2="844.1" y2="604.8" stroke="#008000" stroke-width="3"/><line x1="825.6" y1="549.2" x2="862.6" y2="549.2" stroke="#008000" stroke-width="3"/><line x1="825.6" y1="604.8" x2="862.6" y2="604.8" stroke="#008000" stroke-width="3"/>
<line x1="985.2" y1="542.8" x2="985.2" y2="544.7" stroke="#008000" stroke-width="3"/><line x1="985.2" y1="596.7" x2="985.2" y2="598.6" stroke="#008000" stroke-width="3"/><line x1="966.7" y1="542.8" x2="1003.7" y2="542.8" stroke="#008000" stroke-width="3"/><line x1="966.7" y1="598.6" x2="1003.7" y2="598.6" stroke="#008000" stroke-width="3"/>
<line x1="1126.2" y1="594.4" x2="1126.2" y2="596.0" stroke="#008000" stroke-width="3"/><line x1="1126.2" y1="648.0" x2="1126.2" y2="649.6" stroke="#008000" stroke-width="3"/><line x1="1107.7" y1="594.4" x2="1144.7" y2="594.4" stroke="#008000" stroke-width="3"/><line x1="1107.7" y1="649.6" x2="1144.7" y2="649.6" stroke="#008000" stroke-width="3"/>
<line x1="1267.2" y1="571.1" x2="1267.2" y2="572.8" stroke="#008000" stroke-width="3"/><line x1="1267.2" y1="624.8" x2="1267.2" y2="626.5" stroke="#008000" stroke-width="3"/><line x1="1248.7" y1="571.1" x2="1285.7" y2="571.1" stroke="#008000" stroke-width="3"/><line x1="1248.7" y1="626.5" x2="1285.7" y2="626.5" stroke="#008000" stroke-width="3"/>
<line x1="1408.3" y1="553.5" x2="1408.3" y2="555.3" stroke="#008000" stroke-width="3"/><line x1="1408.3" y1="607.3" x2="1408.3" y2="609.1" stroke="#008000" stroke-width="3"/><line x1="1389.8" y1="553.5" x2="1426.8" y2="553.5" stroke="#008000" stroke-width="3"/><line x1="1389.8" y1="609.1" x2="1426.8" y2="609.1" stroke="#008000" stroke-width="3"/>
<line x1="1549.3" y1="573.3" x2="1549.3" y2="575.0" stroke="#008000" stroke-width="3"/><line x1="1549.3" y1="627.0" x2="1549.3" y2="628.7" stroke="#008000" stroke-width="3"/><line x1="1530.8" y1="573.3" x2="1567.8" y2="573.3" stroke="#008000" stroke-width="3"/><line x1="1530.8" y1="628.7" x2="1567.8" y2="628.7" stroke="#008000" stroke-width="3"/>
<line x1="1690.3" y1="563.7" x2="1690.3" y2="565.5" stroke="#008000" stroke-width="3"/><line x1="1690.3" y1="617.5" x2="1690.3" y2="619.3" stroke="#008000" stroke-width="3"/><line x1="1671.8" y1="563.7" x2="1708.8" y2="563.7" stroke="#008000" stroke-width="3"/><line x1="1671.8" y1="619.3" x2="1708.8" y2="619.3" stroke="#008000" stroke-width="3"/>
<line x1="1831.4" y1="572.6" x2="1831.4" y2="574.3" stroke="#008000" stroke-width="3"/><line x1="1831.4" y1="626.3" x2="1831.4" y2="628.0" stroke="#008000" stroke-width="3"/><line x1="1812.9" y1="572.6" x2="1849.9" y2="572.6" stroke="#008000" stroke-width="3"/><line x1="1812.9" y1="628.0" x2="1849.9" y2="628.0" stroke="#008000" stroke-width="3"/>
<line x1="1972.4" y1="568.2" x2="1972.4" y2="569.9" stroke="#008000" stroke-width="3"/><line x1="1972.4" y1="621.9" x2="1972.4" y2="623.6" stroke="#008000" stroke-width="3"/><line x1="1953.9" y1="568.2" x2="1990.9" y2="568.2" stroke="#008000" stroke-width="3"/><line x1="1953.9" y1="623.6" x2="1990.9" y2="623.6" stroke="#008000" stroke-width="3"/>
<line x1="2113.4" y1="567.2" x2="2113.4" y2="569.0" stroke="#008000" stroke-width="3"/><line x1="2113.4" y1="621.0" x2="2113.4" y2="622.8" stroke="#008000" stroke-width="3"/><line x1="2094.9" y1="567.2" x2="2131.9" y2="567.2" stroke="#008000" stroke-width="3"/><line x1="2094.9" y1="622.8" x2="2131.9" y2="622.8" stroke="#008000" stroke-width="3"/>
<line x1="2254.5" y1="593.0" x2="2254.5" y2="594.6" stroke="#008000" stroke-width="3"/><line x1="2254.5" y1="646.6" x2="2254.5" y2="648.2" stroke="#008000" stroke-width="3"/><line x1="2236.0" y1="593.0" x2="2273.0" y2="593.0" stroke="#008000" stroke-width="3"/><line x1="2236.0" y1="648.2" x2="2273.0" y2="648.2" stroke="#008000" stroke-width="3"/>
<line x1="2395.5" y1="573.3" x2="2395.5" y2="575.0" stroke="#008000" stroke-width="3"/><line x1="2395.5" y1="627.0" x2="2395.5" y2="628.7" stroke="#008000" stroke-width="3"/><line x1="2377.0" y1="573.3" x2="2414.0" y2="573.3" stroke="#008000" stroke-width="3"/><line x1="2377.0" y1="628.7" x2="2414.0" y2="628.7" stroke="#008000" stroke-width="3"/>
</g>
<line x1="345.8" y1="1302.5" x2="517.6" y2="1302.5" stroke="#000000" stroke-width="11.5" stroke-linecap="round"/>
<rect x="411.70" y="1282.50" width="40" height="40" fill="#000000"/>
<text x="537.5" y="1326.8" font-size="76">(a)</text>
<line x1="776.1" y1="1302.5" x2="947.9" y2="1302.5" stroke="#ff0000" stroke-width="11.5" stroke-linecap="round"/>
<ellipse cx="862.00" cy="1302.50" rx="21.8" ry="22.8" fill="#ff0000"/>
<text x="968.0" y="1326.8" font-size="76">(b)</text>
<line x1="1209.8" y1="1302.5" x2="1382.2" y2="1302.5" stroke="#0000ff" stroke-width="11.5" stroke-linecap="round"/>
<polygon points="1296.00,1272.10 1270.00,1318.40 1322.00,1318.40" fill="#0000ff"/>
<text x="1401.8" y="1326.8" font-size="76">(c)</text>
<line x1="1636.2" y1="1302.5" x2="1807.8" y2="1302.5" stroke="#ff00ff" stroke-width="11.5" stroke-linecap="round"/>
<polygon points="1722.00,1332.00 1696.20,1286.50 1747.80,1286.50" fill="#ff00ff"/>
<text x="1827.9" y="1326.8" font-size="76">(d)</text>
<line x1="2069.8" y1="1302.5" x2="2242.2" y2="1302.5" stroke="#008000" stroke-width="11.5" stroke-linecap="round"/>
<polygon points="2156.00,1275.30 2177.90,1302.50 2156.00,1329.70 2134.10,1302.50" fill="#008000"/>
<text x="2261.8" y="1326.8" font-size="76">(e)</text>
</svg></body></html>
